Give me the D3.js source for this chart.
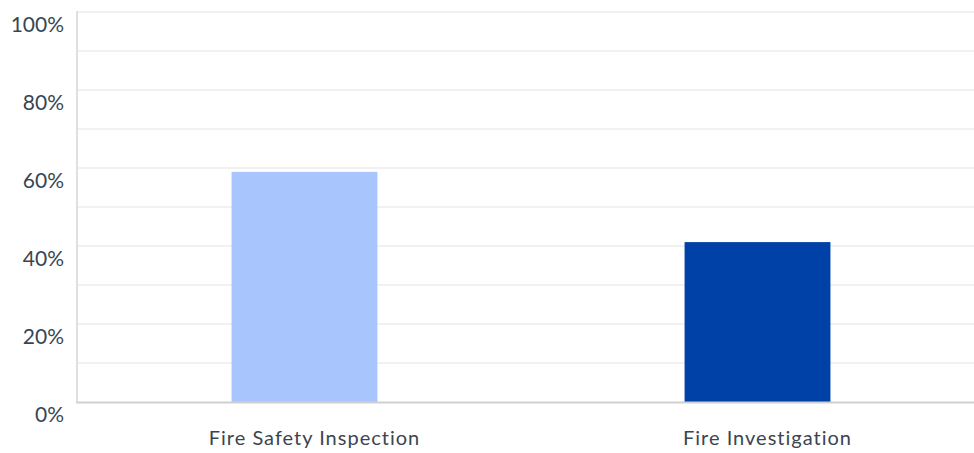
<!DOCTYPE html>
<html><head><meta charset="utf-8">
<script src="https://cdn.jsdelivr.net/npm/d3@7"></script>
<style>body{margin:0;background:#fff}svg{display:block}</style>
</head><body>
<svg id="c" width="974" height="453"></svg>
<script>
const categories = ["Fire Safety Inspection", "Fire Investigation"];
const values = [59, 41];
const colors = ["#a8c6fd", "#0041a8"];
const yTicks = [0, 20, 40, 60, 80, 100];
const gridTicks = [10, 20, 30, 40, 50, 60, 70, 80, 90, 100];

const svg = d3.select("#c");
const y = d3.scaleLinear().domain([0, 100]).range([402, 12]);
const x = d3.scaleBand().domain(categories).range([78, 984]).paddingInner(0.678).paddingOuter(0.339);

svg.append("g").selectAll("line").data(gridTicks).join("line")
  .attr("x1", 77).attr("x2", 974).attr("y1", d => y(d)).attr("y2", d => y(d))
  .attr("stroke", "#ececec").attr("stroke-width", 1.3);

svg.append("g").selectAll("rect").data(values).join("rect")
  .attr("x", (d, i) => x(categories[i]))
  .attr("width", x.bandwidth())
  .attr("y", d => y(d))
  .attr("height", d => y(0) - y(d))
  .attr("fill", (d, i) => colors[i]);

svg.append("line").attr("x1", 77).attr("x2", 77).attr("y1", 11).attr("y2", 403)
  .attr("stroke", "#d6d6d6").attr("stroke-width", 1.5);
svg.append("line").attr("x1", 76).attr("x2", 974).attr("y1", 402.5).attr("y2", 402.5)
  .attr("stroke", "#d0d0d0").attr("stroke-width", 2);

svg.append("g").selectAll("text").data(yTicks).join("text")
  .attr("x", 64).attr("y", d => y(d) + 11)
  .attr("text-anchor", "end").attr("dominant-baseline", "central")
  .attr("font-family", "Lato, 'Noto Sans', sans-serif").attr("font-size", 21)
  .attr("fill", "#3b4550")
  .text(d => d + "%");

svg.append("g").selectAll("text").data(categories).join("text")
  .attr("x", d => x(d) + x.bandwidth() / 2 + 10).attr("y", 445)
  .attr("text-anchor", "middle")
  .attr("font-family", "Lato, 'Noto Sans', sans-serif").attr("font-size", 20)
  .attr("letter-spacing", 1)
  .attr("fill", "#3b4550")
  .text(d => d);
</script>
</body></html>
